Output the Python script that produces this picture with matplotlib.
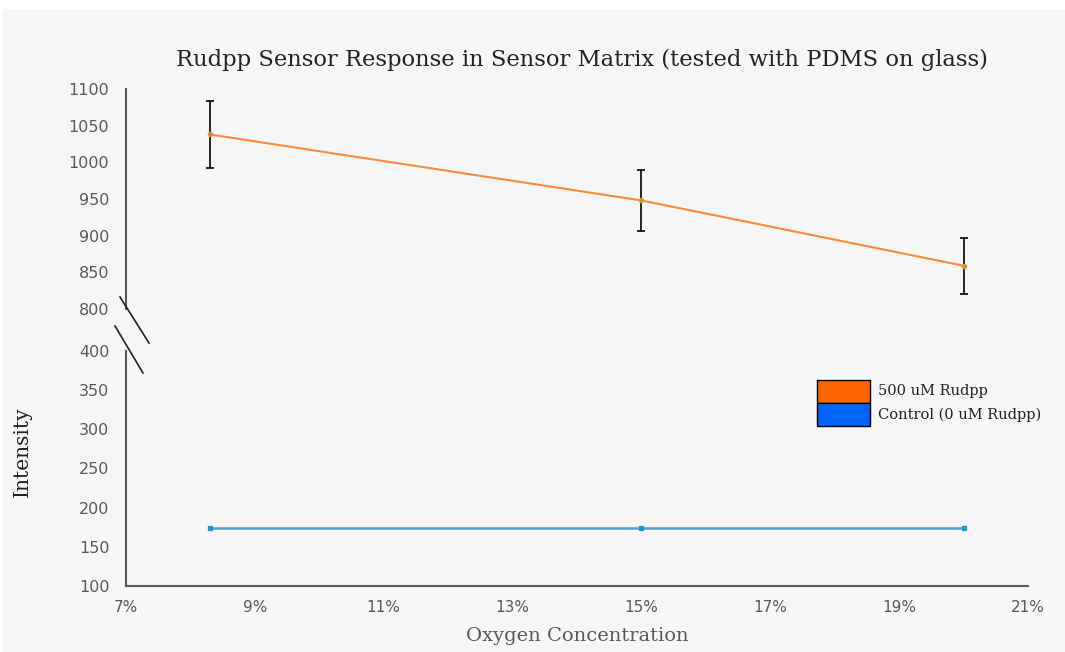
import matplotlib
matplotlib.use("Agg")
import matplotlib.pyplot as plt
from matplotlib.patches import Rectangle
from matplotlib.lines import Line2D
from matplotlib.ticker import PercentFormatter

oxygen = [8.3, 15.0, 20.0]
rudpp_500 = [1038, 948, 859]
rudpp_err = [46, 41, 38]
control = [174, 174, 174]
series_names = ["500 uM Rudpp", "Control (0 uM Rudpp)"]

W, H = 1065, 652
fig = plt.figure(figsize=(W / 100, H / 100), dpi=100, facecolor="white")
fig.patches.append(Rectangle((3 / W, 0), 1, 1 - 9 / H, transform=fig.transFigure,
                             facecolor="#f6f6f6", edgecolor="none", zorder=-10))

left, right = 126 / W, 1028 / W
ax_top = fig.add_axes([left, 1 - 309 / H, right - left, (309 - 89) / H])
ax_bot = fig.add_axes([left, 1 - 586 / H, right - left, (586 - 351) / H])

axis_col = "#595959"
orange = "#fb8a3c"
blue = "#5b9bd5"

for ax in (ax_top, ax_bot):
    ax.set_facecolor("none")
    ax.set_xlim(7, 21)
    for s in ("top", "right"):
        ax.spines[s].set_visible(False)
    ax.spines["left"].set_color(axis_col)
    ax.spines["left"].set_linewidth(1.5)
    ax.tick_params(axis="y", length=0, pad=12, labelsize=11.5, labelcolor=axis_col)

ax_top.spines["bottom"].set_visible(False)
ax_top.tick_params(axis="x", bottom=False, labelbottom=False)
ax_top.set_ylim(800, 1100)
ax_top.set_yticks(range(800, 1101, 50))

ax_bot.set_ylim(100, 400)
ax_bot.set_yticks(range(100, 401, 50))
ax_bot.spines["bottom"].set_color(axis_col)
ax_bot.spines["bottom"].set_linewidth(1.5)
ax_bot.set_xticks(range(7, 22, 2))
ax_bot.xaxis.set_major_formatter(PercentFormatter(decimals=0))
ax_bot.tick_params(axis="x", length=0, pad=10, labelsize=11, labelcolor=axis_col)

ax_top.errorbar(oxygen, rudpp_500, yerr=rudpp_err, color=orange, lw=1.5,
                ecolor="black", elinewidth=1.2, capsize=3, capthick=1.2,
                marker="o", ms=3, mfc="#70ad47", mec=orange, zorder=3)
ax_bot.plot(oxygen, control, color=blue, lw=1.8, marker="s", ms=3,
            mfc="#1f9bbf", mec="#1f9bbf", zorder=3)

# axis break marks
for (x0, y0, x1, y1) in [(120, 297, 149, 343), (115, 326, 143, 373)]:
    fig.add_artist(Line2D([x0 / W, x1 / W], [1 - y0 / H, 1 - y1 / H],
                          transform=fig.transFigure, color="#222222", lw=1.2))

# legend
legend_colors = ["#ff6600", "#0066ff"]
for i, (name, col) in enumerate(zip(series_names, legend_colors)):
    y_top = 380 + i * 23
    fig.patches.append(Rectangle((817 / W, 1 - (y_top + 23) / H), 53 / W, 23 / H,
                                 transform=fig.transFigure, facecolor=col,
                                 edgecolor="black", lw=1))
    fig.text(878 / W, 1 - (y_top + 11.5) / H, name, ha="left", va="center",
             fontsize=10.5, family="DejaVu Serif", color="#222222")

fig.text(582 / W, 1 - 60 / H, "Rudpp Sensor Response in Sensor Matrix (tested with PDMS on glass)",
         ha="center", va="center", fontsize=16.3, family="DejaVu Serif", color="#222222")
fig.text(22 / W, 1 - 452 / H, "Intensity", rotation=90, ha="center", va="center",
         fontsize=14.5, family="DejaVu Serif", color="#222222")
fig.text(577 / W, 1 - 636 / H, "Oxygen Concentration", ha="center", va="center",
         fontsize=14, family="DejaVu Serif", color=axis_col)

fig.savefig("out.png", dpi=100, facecolor=fig.get_facecolor())
